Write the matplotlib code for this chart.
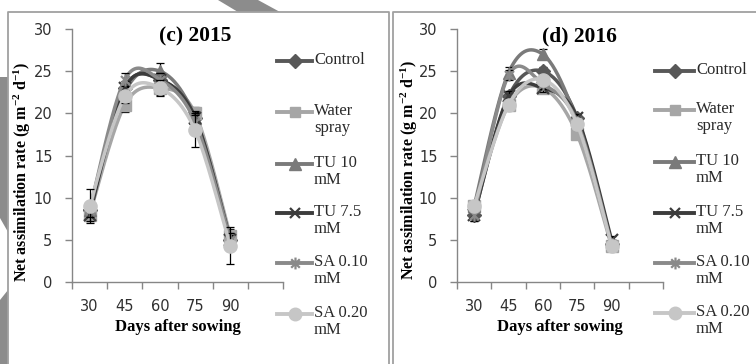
import numpy as np
import matplotlib
matplotlib.use("Agg")
import matplotlib.pyplot as plt
from matplotlib.lines import Line2D
from matplotlib.patches import Polygon
from matplotlib.path import Path

# ---- data -------------------------------------------------------------
days = ["30", "45", "60", "75", "90"]
treatments = ["Control", "Water\nspray", "TU 10\nmM", "TU 7.5\nmM", "SA 0.10\nmM", "SA 0.20\nmM"]

nar_2015_control = [8.5, 23.0, 24.0, 19.5, 5.0]
nar_2015_water = [8.0, 21.0, 23.0, 20.0, 5.5]
nar_2015_tu10 = [8.5, 22.5, 25.0, 19.5, 5.0]
nar_2015_tu75 = [8.0, 23.0, 24.0, 19.5, 5.0]
nar_2015_sa010 = [8.5, 24.0, 24.0, 19.0, 5.0]
nar_2015_sa020 = [9.0, 22.0, 23.0, 18.0, 4.3]

err_2015_control = [0.5, 0.5, 0.5, 0.5, 0.5]
err_2015_water = [0.8, 0.8, 0.8, 0.8, 0.8]
err_2015_tu10 = [0.6, 0.6, 1.0, 0.6, 0.6]
err_2015_tu75 = [0.8, 0.8, 0.8, 0.8, 0.8]
err_2015_sa010 = [0.8, 0.8, 0.8, 0.8, 0.8]
err_2015_sa020 = [2.0, 0.8, 1.0, 2.0, 2.2]

nar_2016_control = [8.0, 22.0, 25.0, 19.5, 4.5]
nar_2016_water = [9.0, 21.0, 23.0, 17.5, 4.3]
nar_2016_tu10 = [9.0, 24.8, 27.0, 19.0, 4.5]
nar_2016_tu75 = [8.0, 22.0, 23.0, 19.5, 5.0]
nar_2016_sa010 = [8.0, 24.5, 23.5, 19.0, 4.5]
nar_2016_sa020 = [9.0, 21.0, 24.0, 18.7, 4.3]

err_2016_control = [0.5, 0.7, 0.5, 0.4, 0.4]
err_2016_water = [0.5, 0.5, 0.5, 0.5, 0.4]
err_2016_tu10 = [0.5, 0.7, 0.6, 0.5, 0.4]
err_2016_tu75 = [0.8, 0.7, 0.5, 0.4, 0.4]
err_2016_sa010 = [0.8, 0.6, 0.6, 0.4, 0.4]
err_2016_sa020 = [0.6, 0.5, 0.6, 0.4, 0.4]

# ---- styling ----------------------------------------------------------
plt.rcParams["mathtext.fontset"] = "custom"
plt.rcParams["mathtext.rm"] = "Liberation Serif:bold"
plt.rcParams["mathtext.it"] = "Liberation Serif:bold"
plt.rcParams["mathtext.bf"] = "Liberation Serif:bold"
plt.rcParams["axes.unicode_minus"] = True

W, H = 756, 364
star = Path([(0, -1), (0, 1), (-0.72, -0.72), (0.72, 0.72), (-0.72, 0.72), (0.72, -0.72)],
            [Path.MOVETO, Path.LINETO, Path.MOVETO, Path.LINETO, Path.MOVETO, Path.LINETO])

styles = [
    dict(color="#585858", marker="D", ms=7),
    dict(color="#a6a6a6", marker="s", ms=8),
    dict(color="#7a7a7a", marker="^", ms=8.5),
    dict(color="#3c3c3c", marker="x", ms=8),
    dict(color="#8a8a8a", marker=star, ms=9),
    dict(color="#c6c6c6", marker="o", ms=9.5),
]
serif = "Liberation Serif"
tick_font = "DejaVu Sans"


def px(x, y):
    return x / W, 1 - y / H


def smooth(xs, ys, n=40):
    """Bezier smoothing through the points (tension 1/6)."""
    pts = np.column_stack([xs, ys]).astype(float)
    out = [pts[0]]
    t = np.linspace(0, 1, n)[1:, None]
    for i in range(len(pts) - 1):
        p0 = pts[i - 1] if i > 0 else pts[i]
        p1, p2 = pts[i], pts[i + 1]
        p3 = pts[i + 2] if i + 2 < len(pts) else pts[i + 1]
        c1 = p1 + (p2 - p0) / 6
        c2 = p2 - (p3 - p1) / 6
        seg = (1 - t) ** 3 * p1 + 3 * (1 - t) ** 2 * t * c1 + 3 * (1 - t) * t ** 2 * c2 + t ** 3 * p2
        out.extend(seg)
    out = np.array(out)
    return out[:, 0], out[:, 1]


fig = plt.figure(figsize=(W / 100, H / 100), dpi=100)
fig.patch.set_facecolor("white")

# grey shapes behind the panels
for poly in ([(218, 0), (258, 0), (280, 12), (238, 12)],
             [(0, 77), (8, 77), (8, 232), (0, 218)],
             [(0, 300), (8, 290), (8, 364), (0, 364)]):
    fig.patches.append(Polygon([px(*p) for p in poly], closed=True, transform=fig.transFigure,
                               facecolor="#8c8c8c", edgecolor="none", zorder=0))

# panel frames
frame_kw = dict(color="#a0a0a0", lw=1.3, transform=fig.transFigure)
for xs, ys in (([8, 8, 389, 389], [364, 12, 12, 364]), ([756, 393, 393], [12, 12, 364])):
    fig.add_artist(Line2D([x / W for x in xs], [1 - y / H for y in ys], **frame_kw))


def panel(rect, series, errors, title, title_xy, ylab_xy, xlab_xy, leg_x, leg_ys):
    ax = fig.add_axes(rect)
    ax.set_facecolor("none")
    xc = np.arange(len(days)) + 0.5
    for i, (vals, errs, st) in enumerate(zip(series, errors, styles)):
        sx, sy = smooth(xc, vals)
        ax.plot(sx, sy, color=st["color"], lw=2.5, solid_capstyle="round", zorder=2 + i)
        ax.errorbar(xc, vals, yerr=errs, fmt="none", ecolor="black", elinewidth=0.9,
                    capsize=3, capthick=0.9, zorder=2 + i)
        if st["marker"] == "x" or isinstance(st["marker"], Path):
            ax.plot(xc, vals, ls="none", marker=st["marker"], ms=st["ms"], mec=st["color"],
                    mew=1.6, zorder=2 + i)
        else:
            ax.plot(xc, vals, ls="none", marker=st["marker"], ms=st["ms"], mfc=st["color"],
                    mec=st["color"], zorder=2 + i)
    ax.set_xlim(0, 6)
    ax.set_ylim(0, 30)
    ax.set_yticks(np.arange(0, 31, 5))
    ax.set_xticks(np.arange(0, 7))
    ax.set_xticklabels([])
    ax.set_xticks(xc, minor=True)
    ax.set_xticklabels(days, minor=True)
    for s in ("top", "right"):
        ax.spines[s].set_visible(False)
    for s in ("left", "bottom"):
        ax.spines[s].set_color("#868686")
        ax.spines[s].set_linewidth(1)
    ax.tick_params(which="major", length=5, width=1, color="#868686", labelsize=10.5,
                   labelcolor="#303030", pad=9)
    ax.tick_params(axis="x", which="minor", length=0, labelsize=10.5, labelcolor="#303030", pad=12)
    for lab in ax.get_xticklabels(minor=True) + ax.get_yticklabels():
        lab.set_family(tick_font)

    fig.text(*px(*title_xy), title, family=serif, weight="bold", fontsize=15.5,
             ha="center", va="center")
    fig.text(*px(*ylab_xy), r"Net assimilation rate (g m$^{-2}$ d$^{-1}$)",
             family=serif, weight="bold", fontsize=11.5, rotation=90, ha="center", va="center")
    fig.text(*px(*xlab_xy), "Days after sowing", family=serif, weight="bold", fontsize=12,
             ha="center", va="center")

    # legend
    x0, x1 = leg_x
    for lab, st, ly in zip(treatments, styles, leg_ys):
        fx0, fy = px(x0, ly)
        fx1, _ = px(x1, ly)
        fig.add_artist(Line2D([fx0, fx1], [fy, fy], color=st["color"], lw=2.8,
                              transform=fig.transFigure))
        mk = dict(marker=st["marker"], ms=st["ms"] * 0.95, mec=st["color"])
        if st["marker"] == "x" or isinstance(st["marker"], Path):
            mk["mew"] = 1.6
        else:
            mk["mfc"] = st["color"]
        fig.add_artist(Line2D([(fx0 + fx1) / 2], [fy], ls="none", transform=fig.transFigure, **mk))
        fig.text(*px(x1 + 2, ly - 9), lab, family=serif, fontsize=12, color="#2a2a2a",
                 ha="left", va="top", linespacing=1.12)
    return ax


panel([72 / W, (H - 282) / H, 211 / W, 253 / H],
      [nar_2015_control, nar_2015_water, nar_2015_tu10, nar_2015_tu75, nar_2015_sa010, nar_2015_sa020],
      [err_2015_control, err_2015_water, err_2015_tu10, err_2015_tu75, err_2015_sa010, err_2015_sa020],
      "(c) 2015", (195, 36), (22, 172), (178, 327), (277, 312),
      [61, 112, 164, 213, 263, 314])

panel([457 / W, (H - 282) / H, 206 / W, 253 / H],
      [nar_2016_control, nar_2016_water, nar_2016_tu10, nar_2016_tu75, nar_2016_sa010, nar_2016_sa020],
      [err_2016_control, err_2016_water, err_2016_tu10, err_2016_tu75, err_2016_sa010, err_2016_sa020],
      "(d) 2016", (579, 36), (409, 170), (560, 327), (655, 694),
      [71, 110, 162, 213, 263, 313])

fig.savefig("out.png", dpi=100)
